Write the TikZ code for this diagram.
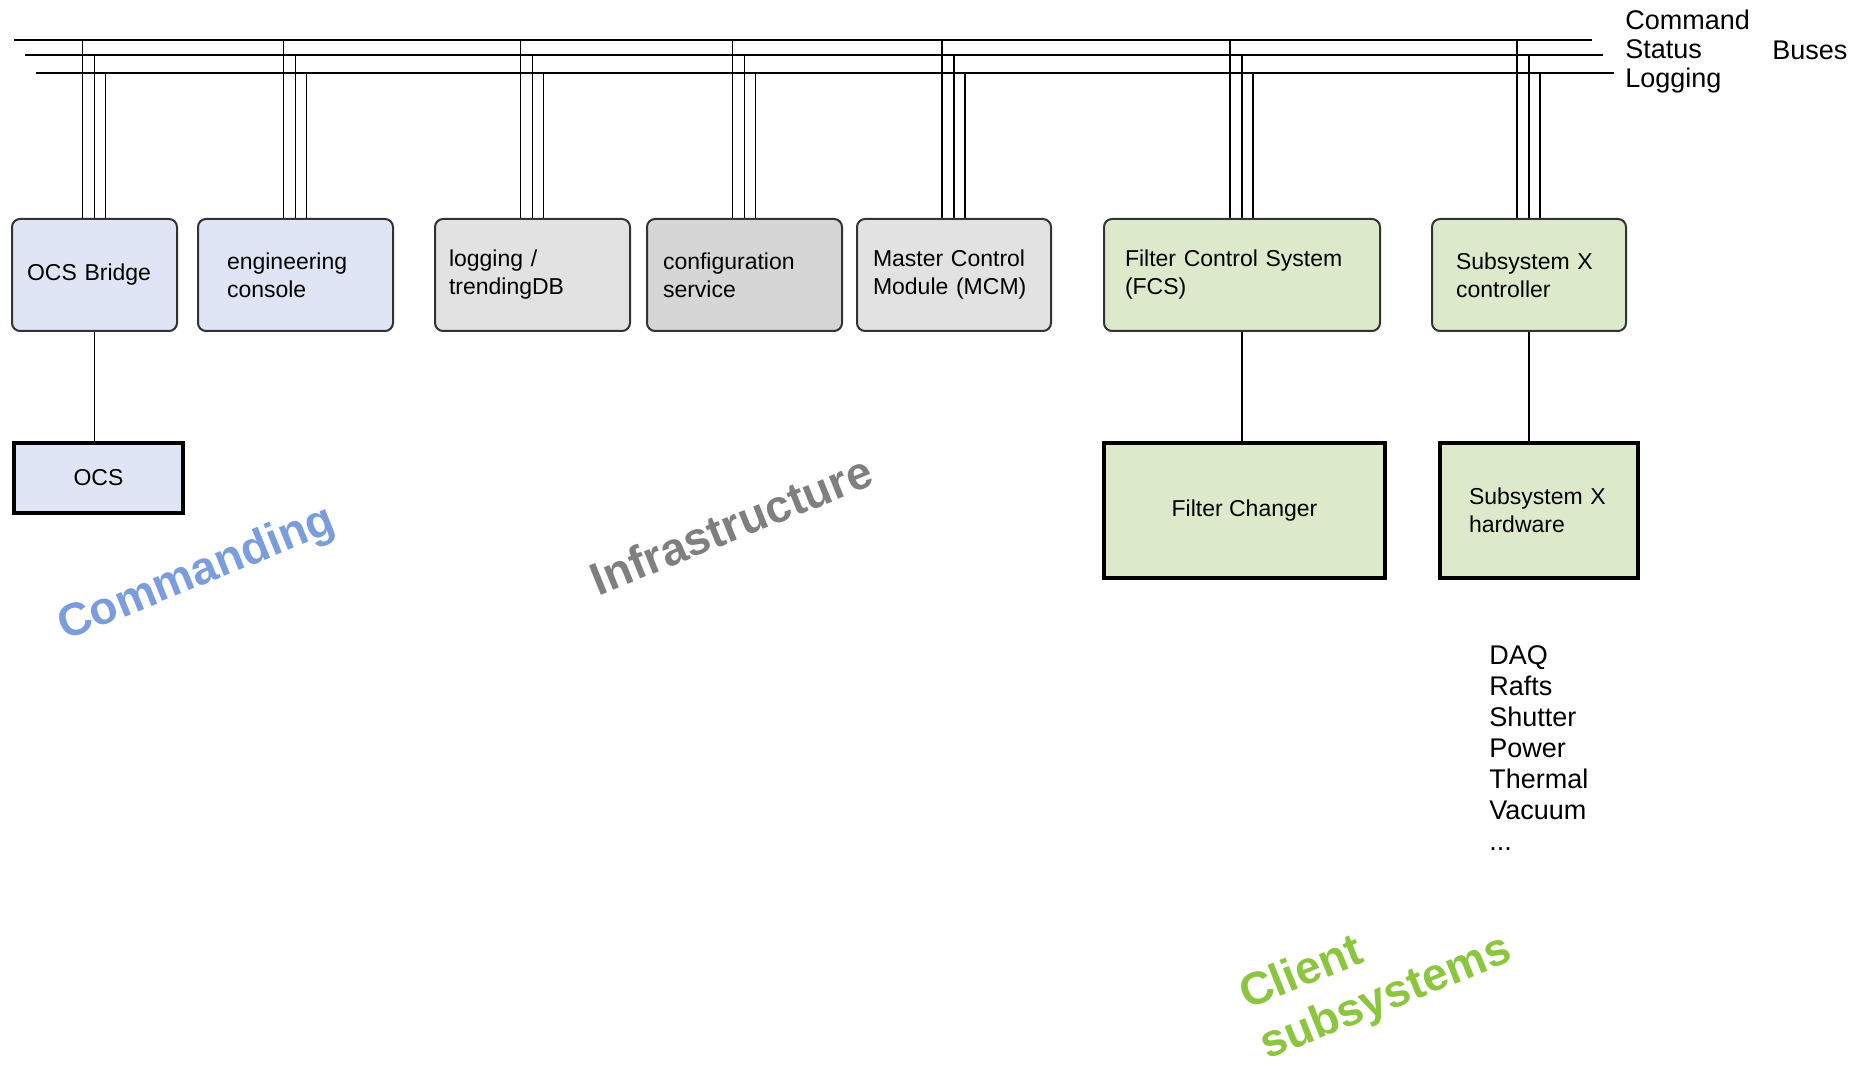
\documentclass[tikz,border=0pt]{standalone}
\usepackage{fontspec}
\setmainfont{Liberation Sans}
\usetikzlibrary{positioning}
\definecolor{cmdfill}{HTML}{DFE5F5}
\definecolor{infrafill}{HTML}{E2E2E2}
\definecolor{cfgfill}{HTML}{D6D6D6}
\definecolor{clientfill}{HTML}{DCE9CB}
\definecolor{cmdtext}{HTML}{7B9DDB}
\definecolor{infratext}{HTML}{7F7F7F}
\definecolor{clienttext}{HTML}{8CC63F}

\begin{document}
\begin{tikzpicture}[x=0.5pt,y=-0.5pt,
   unit/.style={draw=black!80,line width=1pt,rounded corners=4pt,minimum height=56pt,inner sep=0pt,align=left,font=\fontsize{11.5}{14}\selectfont},
   hw/.style={draw=black,line width=1.75pt,inner sep=0pt,align=left,font=\fontsize{11.5}{14}\selectfont},
   bus/.style={line width=0.8pt},
   tag/.style={inner sep=0pt,align=left,font=\fontsize{13.5}{14.5}\selectfont},
   area/.style={rotate=22,align=left,font=\fontsize{23}{27}\selectfont\bfseries}]
   \useasboundingbox (0,0) rectangle (1865,1069);

   \coordinate (cmdL) at (14,40);  \coordinate (cmdR) at (1592,40);
   \coordinate (stL) at (25,55);   \coordinate (stR) at (1603,55);
   \coordinate (logL) at (36,73);  \coordinate (logR) at (1614,73);
   \draw[bus] (cmdL) -- (cmdR) (stL) -- (stR) (logL) -- (logR);
   \node[tag,anchor=north west] (busnames) at (1625,10) {Command\\Status\\Logging};
   \node[tag,anchor=west] (buses) at (1772,50) {Buses};

   \node[unit,fill=cmdfill,minimum width=82.5pt,text width=67.5pt] (bridge) at (94.5,275) {OCS Bridge};
   \node[unit,fill=cmdfill,minimum width=97.5pt,text width=68.5pt] (eng) [right=9.5pt of bridge] {engineering\\console};
   \node[unit,fill=infrafill,minimum width=97.5pt,text width=83.5pt] (logdb) [right=20pt of eng] {logging /\\trendingDB};
   \node[unit,fill=cfgfill,minimum width=97.5pt,text width=81.5pt] (config) [right=7.5pt of logdb] {configuration\\service};
   \node[unit,fill=infrafill,minimum width=97pt,text width=81pt] (mcm) [right=6.5pt of config] {Master Control\\Module (MCM)};
   \node[unit,fill=clientfill,minimum width=138pt,text width=117pt] (fcs) [right=25.5pt of mcm] {Filter Control System\\(FCS)};
   \node[unit,fill=clientfill,minimum width=97pt,text width=73pt] (sxctrl) [right=25pt of fcs] {Subsystem X\\controller};

   \node[hw,fill=cmdfill,minimum width=84.5pt,minimum height=35pt,align=center] (ocs) [below=54.6pt of bridge,xshift=2pt] {OCS};
   \node[hw,fill=clientfill,minimum width=140.5pt,minimum height=67.5pt,align=center] (fchanger) [below=54.6pt of fcs,xshift=1.25pt] {Filter Changer};
   \node[hw,fill=clientfill,minimum width=99pt,minimum height=67.5pt,text width=70pt] (sxhw) [below=54.6pt of sxctrl,xshift=5pt] {Subsystem X\\hardware};

   \foreach \u in {bridge,eng,logdb,config,mcm,fcs,sxctrl}{
      \coordinate (c) at ([xshift=-6pt]\u.north);
      \coordinate (s) at (\u.north);
      \coordinate (l) at ([xshift=5.5pt]\u.north);
      \draw[bus] (c) -- (c |- cmdL) (s) -- (s |- stL) (l) -- (l |- logL);
   }

   \draw[bus] (bridge.south) -- (bridge.south |- ocs.north);
   \draw[bus] (fcs.south) -- (fcs.south |- fchanger.north);
   \draw[bus] (sxctrl.south) -- (sxctrl.south |- sxhw.north);

   \node[tag,anchor=north west,font=\fontsize{13.5}{15.5}\selectfont] (sxlist) at (1489,645) {DAQ\\Rafts\\Shutter\\Power\\Thermal\\Vacuum\\...};

   \node[area,text=cmdtext] (commanding) at (197,575) {Commanding};
   \node[area,text=infratext] (infra) at (731,525) {Infrastructure};
   \node[area,text=clienttext] (client) at (1376,974) {Client\\subsystems};
\end{tikzpicture}
\end{document}
